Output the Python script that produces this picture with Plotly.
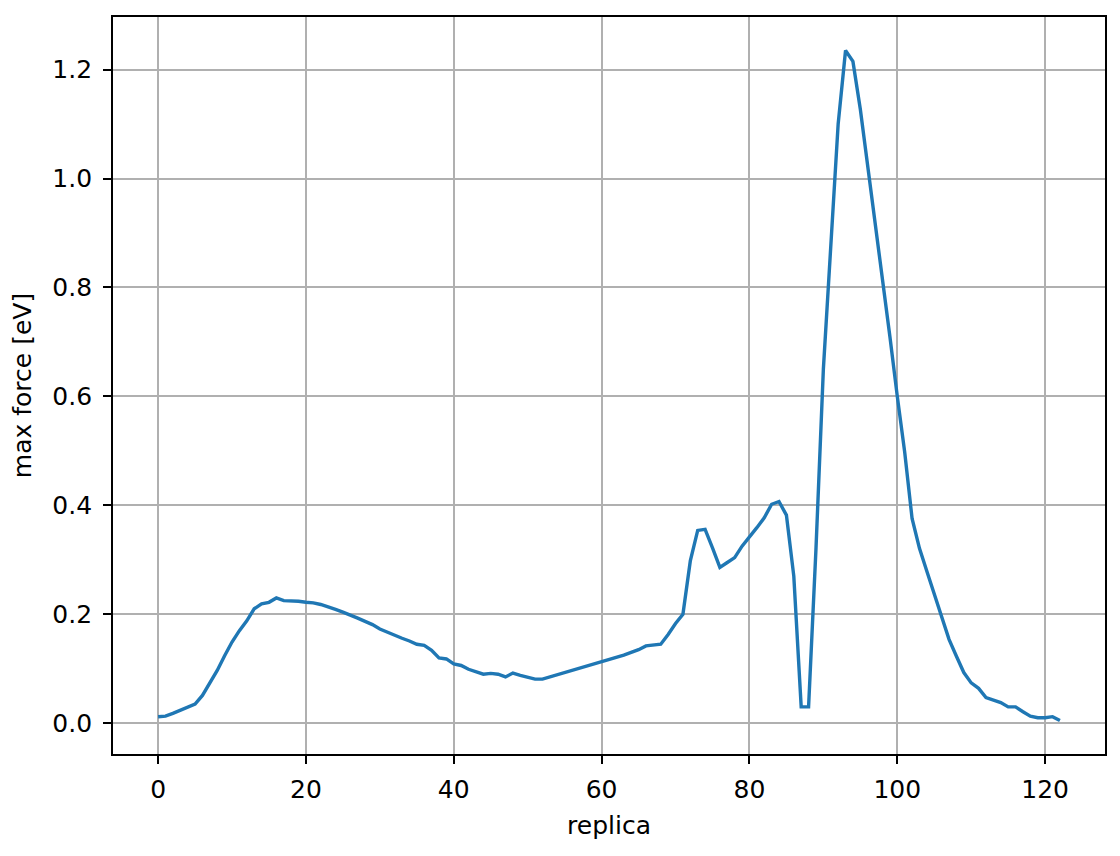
import plotly.graph_objects as go

replica = list(range(123))
max_force = [
    0.012, 0.013, 0.018, 0.024, 0.030, 0.035, 0.051, 0.073, 0.097, 0.124,
    0.149, 0.170, 0.188, 0.210, 0.219, 0.222, 0.230, 0.225, 0.225, 0.224,
    0.222, 0.221, 0.218, 0.214, 0.209, 0.204, 0.199, 0.193, 0.187, 0.181,
    0.173, 0.167, 0.162, 0.156, 0.151, 0.145, 0.143, 0.134, 0.120, 0.118,
    0.109, 0.106, 0.099, 0.095, 0.090, 0.0915, 0.090, 0.085, 0.092, 0.088,
    0.085, 0.081, 0.081, 0.085, 0.089, 0.092, 0.096, 0.101, 0.105, 0.109,
    0.112, 0.116, 0.121, 0.125, 0.130, 0.135, 0.142, 0.144, 0.145, 0.163,
    0.183, 0.200, 0.298, 0.354, 0.356, 0.322, 0.286, 0.295, 0.304, 0.325,
    0.341, 0.359, 0.377, 0.402, 0.407, 0.382, 0.270, 0.030, 0.030, 0.320,
    0.650, 0.880, 1.100, 1.235, 1.215, 1.127, 1.023, 0.925, 0.821, 0.710,
    0.600, 0.498, 0.376, 0.321, 0.279, 0.236, 0.193, 0.154, 0.123, 0.093,
    0.074, 0.064, 0.047, 0.042, 0.038, 0.030, 0.030, 0.021, 0.013, 0.010,
    0.010, 0.012, 0.005,
]

x_ticks = [0, 20, 40, 60, 80, 100, 120]
y_ticks = [0.0, 0.2, 0.4, 0.6, 0.8, 1.0, 1.2]

fig = go.Figure()
fig.add_trace(go.Scatter(
    x=replica, y=max_force, mode="lines",
    line=dict(color="#1f77b4", width=3.4),
    showlegend=False, hoverinfo="skip",
))

font = dict(family="DejaVu Sans", size=25, color="#000000")
axis_common = dict(
    showline=True, linecolor="#000000", linewidth=1.8, mirror=True,
    showgrid=True, gridcolor="#b0b0b0", gridwidth=1.6,
    zeroline=False,
    ticks="outside", ticklen=8, tickwidth=1.8, tickcolor="#000000",
    tickfont=font,
)

# page body has an 8px margin, so the figure is offset by 8px
fig.update_layout(
    width=1112, height=848,
    margin=dict(l=105, r=15, t=7, b=102),
    paper_bgcolor="white", plot_bgcolor="white",
    font=font,
    xaxis=dict(
        range=[-6.1, 128.1], tickvals=x_ticks, ticklabelstandoff=4,
        title=dict(text="replica", font=font, standoff=14),
        **axis_common,
    ),
    yaxis=dict(
        range=[-0.0565, 1.2965], tickvals=y_ticks, tickformat=".1f",
        ticklabelstandoff=6,
        title=dict(text="max force [eV]", font=font, standoff=15),
        **axis_common,
    ),
)

fig.write_html("out.html")
